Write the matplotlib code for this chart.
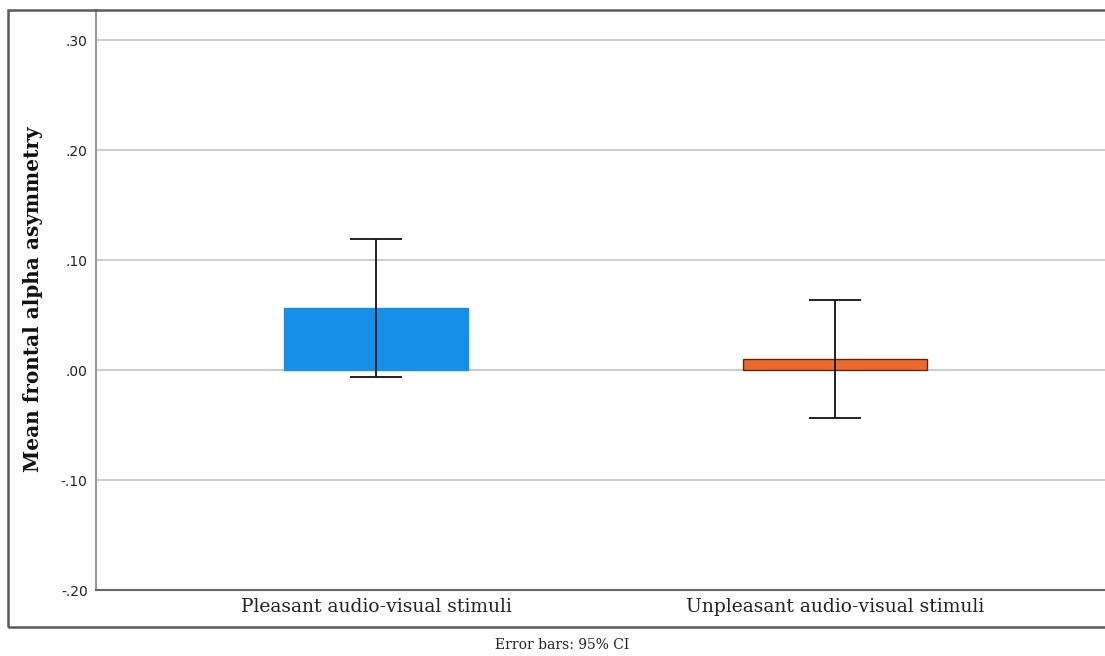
import matplotlib
matplotlib.use("Agg")
import matplotlib.pyplot as plt
from matplotlib.patches import Rectangle
from matplotlib.ticker import FixedLocator, FuncFormatter

categories = ["Pleasant audio-visual stimuli", "Unpleasant audio-visual stimuli"]
means = [0.056, 0.010]
ci_low = [-0.006, -0.044]
ci_high = [0.119, 0.064]
bar_colors = ["#1590E8", "#EE6A2C"]
edge_colors = ["#1590E8", "#5a2a10"]
yticks = [-0.20, -0.10, 0.00, 0.10, 0.20, 0.30]

W, H = 1105, 656
fig = plt.figure(figsize=(W / 100, H / 100), dpi=100)
ax = fig.add_axes([96 / W, (H - 590) / H, (1115 - 96) / W, (590 - 10) / H])

x = list(range(len(categories)))
ax.set_xlim(-0.61, 1.61)
ax.set_ylim(-0.20, 0.3273)

ax.yaxis.set_major_locator(FixedLocator(yticks))
def fmt(v, pos):
    s = f"{abs(v):.2f}".lstrip("0")
    return ("-" if v < -1e-9 else "") + s
ax.yaxis.set_major_formatter(FuncFormatter(fmt))
ax.grid(axis="y", color="#c4c4c4", linewidth=1.2, zorder=0)
ax.set_axisbelow(True)

for i in x:
    ax.bar(i, means[i], width=0.4, color=bar_colors[i], edgecolor=edge_colors[i],
           linewidth=1.0, zorder=2)
    ax.errorbar(i, means[i], yerr=[[means[i] - ci_low[i]], [ci_high[i] - means[i]]],
                fmt="none", ecolor="#111111", elinewidth=1.3, capsize=19, capthick=1.3, zorder=3)

ax.set_xticks(x)
ax.set_xticklabels(categories, family="DejaVu Serif", fontsize=13.5, color="#222222")
ax.tick_params(axis="both", length=0)
ax.tick_params(axis="x", pad=6)
ax.tick_params(axis="y", labelsize=10, labelcolor="#222222", pad=6)

for s in ["top", "right"]:
    ax.spines[s].set_visible(False)
ax.spines["left"].set_color("#999999")
ax.spines["left"].set_linewidth(1.5)
ax.spines["bottom"].set_color("#666666")
ax.spines["bottom"].set_linewidth(1.5)

ax.set_ylabel("Mean frontal alpha asymmetry", family="DejaVu Serif", fontweight="bold",
              fontsize=14.4, color="#111111")
ax.yaxis.set_label_coords(43 / W, (H - 299) / H, transform=fig.transFigure)

fig.patches.append(Rectangle((8 / W, (H - 627) / H), 1.2, (627 - 10) / H,
                             transform=fig.transFigure, fill=False,
                             edgecolor="#5a5a5a", linewidth=1.8, zorder=10))

fig.text(562 / W, 1 - 645 / H, "Error bars: 95% CI", family="DejaVu Serif",
         fontsize=10, ha="center", va="center", color="#222222")

fig.savefig("out.png", dpi=100)
